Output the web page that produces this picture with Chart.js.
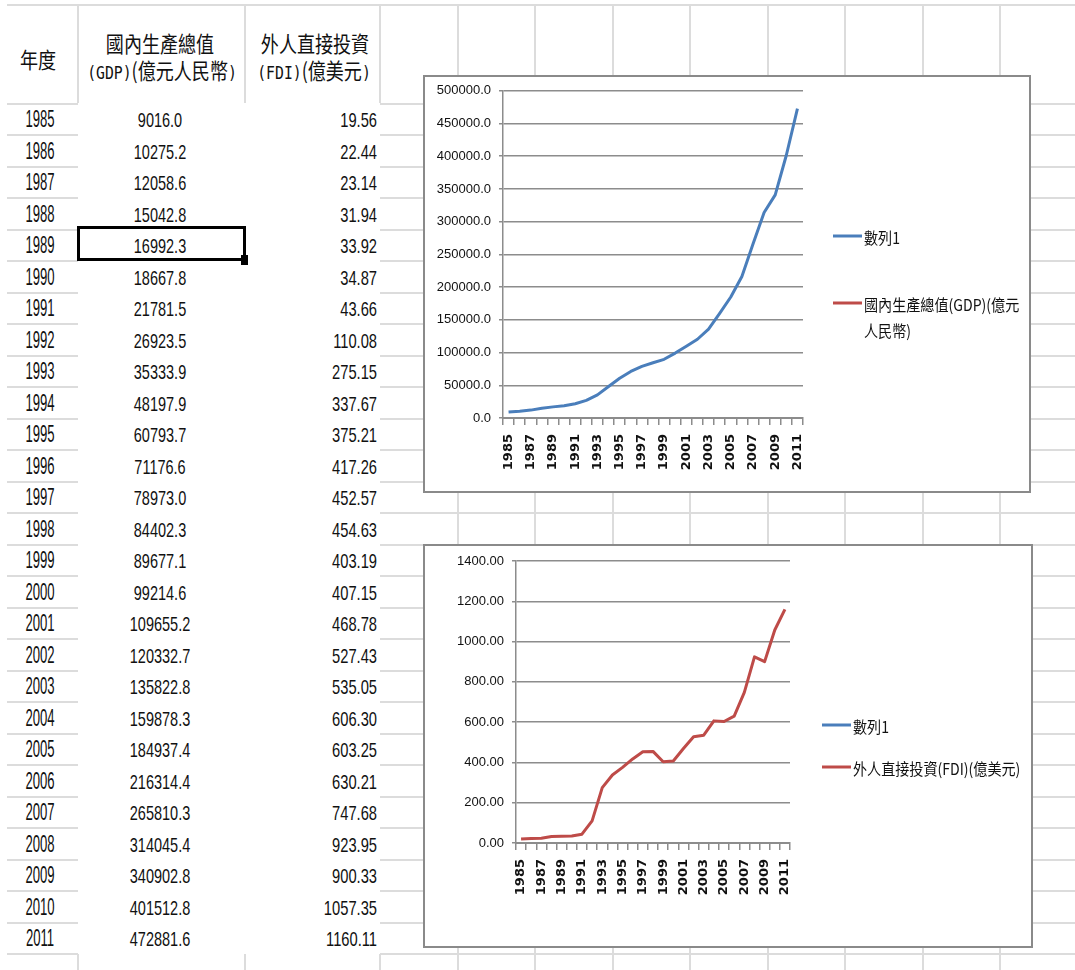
<!DOCTYPE html>
<html>
<head>
<meta charset="utf-8">
<script src="https://cdn.jsdelivr.net/npm/chart.js"></script>
<style>
  body { margin: 0; background: #fff; }
  #sheet { position: relative; width: 1075px; height: 970px; overflow: hidden; background: #fff; }
  .ln { position: absolute; background: #dcdcdc; }
  .t { position: absolute; white-space: nowrap; line-height: 1; color: #111; font-family: "Liberation Sans", Arial, sans-serif; }
  .hd { font-family: "Noto Sans CJK TC", sans-serif; font-size: 22px; }
  .hd .lat { font-family: "DejaVu Sans Mono", monospace; font-size: 18px; }
  .box { position: absolute; background: #fff; }
  .box canvas { position: absolute; left: 0; top: 0; }
  .frame { position: absolute; left: 0; top: 0; right: 0; bottom: 0; border: 2px solid #8a8a8a; pointer-events: none; }
  #sel { position: absolute; left: 77px; top: 226px; width: 169px; height: 35px; border: 3px solid #000; box-sizing: border-box; }
  #handle { position: absolute; left: 241px; top: 255px; width: 7px; height: 10px; background: #000; }
</style>
</head>
<body>
<div id="sheet">
  <div class="box" id="box1" style="left:423px;top:75px;width:608px;height:418px;">
    <canvas id="gdpChart" width="608" height="418"></canvas>
    <div class="frame"></div>
  </div>
  <div class="box" id="box2" style="left:423px;top:544px;width:610px;height:404px;">
    <canvas id="fdiChart" width="610" height="404"></canvas>
    <div class="frame"></div>
  </div>
</div>
<script>
// data read from the sheet
const years = ['1985','1986','1987','1988','1989','1990','1991','1992','1993','1994','1995','1996','1997','1998',
  '1999','2000','2001','2002','2003','2004','2005','2006','2007','2008','2009','2010','2011'];
const gdp = [9016.0, 10275.2, 12058.6, 15042.8, 16992.3, 18667.8, 21781.5, 26923.5, 35333.9, 48197.9, 60793.7,
  71176.6, 78973.0, 84402.3, 89677.1, 99214.6, 109655.2, 120332.7, 135822.8, 159878.3, 184937.4, 216314.4,
  265810.3, 314045.4, 340902.8, 401512.8, 472881.6];
const fdi = [19.56, 22.44, 23.14, 31.94, 33.92, 34.87, 43.66, 110.08, 275.15, 337.67, 375.21, 417.26, 452.57,
  454.63, 403.19, 407.15, 468.78, 527.43, 535.05, 606.30, 603.25, 630.21, 747.68, 923.95, 900.33, 1057.35, 1160.11];
const seriesName = '數列1';
const gdpName = '國內生產總值(GDP)(億元人民幣)';
const fdiName = '外人直接投資(FDI)(億美元)';

const blue = '#4a7ebb';
const red = '#be4b48';
const axisGray = '#8c8c8c';

const sheet = document.getElementById('sheet');

function line(x, y, w, h) {
  const d = document.createElement('div');
  d.className = 'ln';
  d.style.cssText = `left:${x}px;top:${y}px;width:${w}px;height:${h}px;`;
  sheet.insertBefore(d, sheet.firstChild);
}

// sheet grid
line(7, 4, 1068, 2);
const rowTop = 103.5, rowH = 31.5;
for (let k = 0; k <= 27; k++) {
  const y = rowTop + rowH * k - 1;
  line(7, y, 71, 2);
  line(380, y, 695, 2);
}
[78, 245, 380].forEach(x => { line(x - 1, 5, 2, 98); line(x - 1, 954, 2, 16); });
[458, 535, 613, 690, 768, 845, 923, 1000].forEach(x => line(x - 1, 5, 2, 965));

function text(str, x, y, cls, size, sx, align) {
  const d = document.createElement('div');
  d.className = 't ' + (cls || '');
  d.innerHTML = str;
  d.style.left = x + 'px';
  d.style.top = y + 'px';
  if (size) d.style.fontSize = size + 'px';
  if (align === 'right') {
    d.style.transformOrigin = '100% 50%';
    d.style.transform = `translate(-100%,-50%) scaleX(${sx})`;
  } else {
    d.style.transform = `translate(-50%,-50%) scaleX(${sx})`;
  }
  sheet.appendChild(d);
}

// header
text('年度', 38, 58, 'hd', null, 0.82);
text('國內生產總值', 160, 42, 'hd', null, 0.82);
text('<span class="lat">(GDP)</span>(億元人民幣<span class="lat">)</span>', 162, 70, 'hd', null, 0.82);
text('外人直接投資', 315, 42, 'hd', null, 0.82);
text('<span class="lat">(FDI)</span>(億美元<span class="lat">)</span>', 314, 70, 'hd', null, 0.82);

// rows
years.forEach((yr, i) => {
  const y = 119 + rowH * i;
  text(yr, 40, y, '', 23, 0.57);
  text(gdp[i].toFixed(1), 160, y, '', 21, 0.69);
  text(fdi[i].toFixed(2), 377, y, '', 21, 0.7, 'right');
});

const sel = document.createElement('div'); sel.id = 'sel'; sheet.appendChild(sel);
const hnd = document.createElement('div'); hnd.id = 'handle'; sheet.appendChild(hnd);

// legend at the right side, wrapping long names
const sideLegend = {
  id: 'sideLegend',
  afterDraw(chart, args, opts) {
    const ctx = chart.ctx;
    ctx.save();
    ctx.font = '16px "Noto Sans CJK TC", sans-serif';
    ctx.textBaseline = 'middle';
    chart.data.datasets.forEach((ds, i) => {
      const y = opts.y[i];
      ctx.strokeStyle = ds.borderColor;
      ctx.lineWidth = 3;
      ctx.beginPath();
      ctx.moveTo(opts.x, y);
      ctx.lineTo(opts.x + 29, y);
      ctx.stroke();
      const lines = [];
      let cur = '';
      for (const ch of ds.label) {
        if (cur && ctx.measureText(cur + ch).width * 0.88 > opts.maxWidth) { lines.push(cur); cur = ch; }
        else cur += ch;
      }
      lines.push(cur);
      ctx.fillStyle = '#111';
      lines.forEach((t, j) => {
        ctx.save();
        ctx.translate(opts.x + 31, y + 2 + j * 26);
        ctx.scale(0.88, 1);
        ctx.fillText(t, 0, 0);
        ctx.restore();
      });
    });
    ctx.restore();
  }
};

Chart.defaults.font.family = '"Liberation Sans", Arial, sans-serif';
Chart.defaults.font.size = 13;
Chart.defaults.color = '#111';

function makeChart(id, datasets, yMax, yStep, digits, plot, legend) {
  return new Chart(document.getElementById(id), {
    type: 'line',
    data: { labels: years, datasets: datasets },
    plugins: [sideLegend],
    options: {
      responsive: false,
      animation: false,
      devicePixelRatio: 1,
      layout: { padding: { top: plot.top, right: plot.right, bottom: 0, left: 0 } },
      elements: {
        point: { radius: 0 },
        line: { borderWidth: 3, tension: 0, borderJoinStyle: 'round' }
      },
      plugins: {
        legend: { display: false },
        tooltip: { enabled: false },
        sideLegend: legend
      },
      scales: {
        x: {
          offset: true,
          grid: { offset: true, drawOnChartArea: false, drawTicks: true, tickLength: 7, color: axisGray, lineWidth: 1.5 },
          border: { display: true, color: axisGray, width: 2 },
          ticks: {
            autoSkip: false, minRotation: 90, maxRotation: 90, padding: 9,
            font: { family: '"DejaVu Sans", sans-serif', size: 13, weight: 'bold' },
            callback: function (value, index) { return index % 2 === 0 ? this.getLabelForValue(value) : ''; }
          },
          afterFit: s => { s.height = plot.xh; }
        },
        y: {
          min: 0, max: yMax,
          grid: { color: axisGray, lineWidth: 1.5, tickLength: 4 },
          border: { display: true, color: axisGray, width: 1.5 },
          ticks: { stepSize: yStep, padding: 8, callback: v => v.toFixed(digits) },
          afterFit: s => { s.width = plot.yw; }
        }
      }
    }
  });
}

makeChart('gdpChart', [
  { label: seriesName, data: gdp, borderColor: blue, backgroundColor: blue },
  { label: gdpName, data: [], borderColor: red, backgroundColor: red }
], 500000, 50000, 1, { top: 13, right: 228, xh: 75, yw: 80 }, { x: 410, y: [161, 228], maxWidth: 160 });

makeChart('fdiChart', [
  { label: seriesName, data: [], borderColor: blue, backgroundColor: blue },
  { label: fdiName, data: fdi, borderColor: red, backgroundColor: red }
], 1400, 200, 2, { top: 17, right: 243, xh: 105, yw: 93 }, { x: 399, y: [181, 223], maxWidth: 180 });
</script>
</body>
</html>
